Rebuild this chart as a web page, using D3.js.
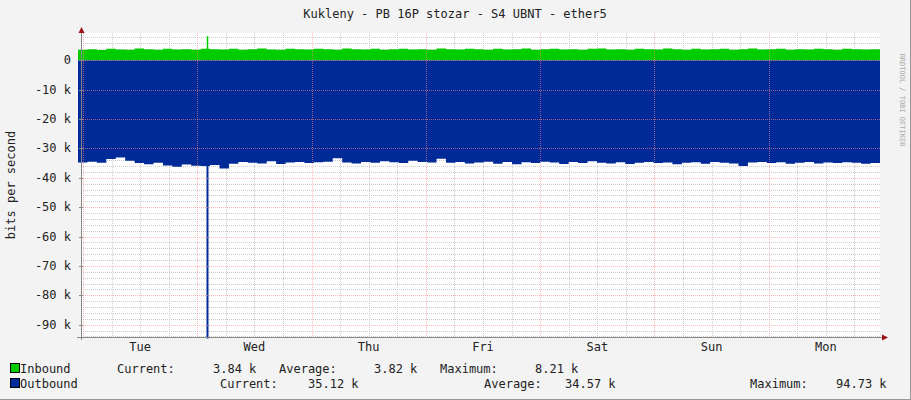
<!DOCTYPE html>
<html><head><meta charset="utf-8">
<script src="https://cdn.jsdelivr.net/npm/d3@7"></script>
<style>body{margin:0;background:#f3f3f3}text{font-family:"DejaVu Sans Mono",monospace}</style>
</head><body><svg id="c" width="911" height="400"></svg>
<script>
const dayLabels=["Tue","Wed","Thu","Fri","Sat","Sun","Mon"];
const yTicks=[0,-10000,-20000,-30000,-40000,-50000,-60000,-70000,-80000,-90000];
// 2-hourly samples, hour 0 = Tue 00:00 (starting 2h before)
const inbound=[3.6,3.8,3.5,3.9,3.7,3.6,4.0,3.8,3.6,3.9,3.7,3.8,3.6,3.9,3.8,3.7,3.9,3.6,3.8,4.0,3.7,3.6,3.9,3.8,3.7,3.9,3.8,3.6,4.0,3.8,3.7,3.9,3.6,3.8,3.9,3.7,3.8,3.6,4.0,3.8,3.7,3.9,3.8,3.6,3.9,3.7,3.8,4.0,3.6,3.8,3.9,3.7,3.8,3.6,3.9,4.0,3.7,3.8,3.6,3.9,3.8,3.7,4.0,3.8,3.6,3.9,3.7,3.8,3.9,3.6,3.8,4.0,3.7,3.8,3.9,3.6,3.8,3.7,3.9,3.8,3.6,3.9,3.8,3.7,3.8,3.84].map(v=>v*1000);
const outbound=[34.8,34.5,34.9,33.6,33.1,34.2,35.0,35.4,34.9,35.8,36.2,35.5,35.9,36.0,35.6,36.8,35.2,34.6,34.9,35.1,34.4,35.3,34.8,34.6,35.0,34.7,34.5,33.3,34.8,35.1,34.6,34.9,34.4,34.7,35.0,34.2,34.6,34.8,33.5,34.9,34.6,35.1,34.8,34.5,35.2,34.6,35.4,34.7,35.0,34.5,34.8,35.3,34.6,35.0,34.4,34.9,35.1,34.7,35.3,34.9,34.6,35.0,34.8,35.4,34.9,34.7,35.2,34.6,34.9,35.1,36.0,34.8,34.6,35.0,34.7,35.2,34.9,34.6,35.1,34.8,35.0,34.7,34.9,35.2,35.0,35.12].map(v=>-v*1000);
const spikeHour=26; // Wed ~02:30
const spikeIn=8210, spikeOut=-94730;
const legend=[
 {name:"Inbound",color:"#00cc00",cur:"3.84 k",avg:"3.82 k",max:"8.21 k"},
 {name:"Outbound",color:"#002a97",cur:"35.12 k",avg:"34.57 k",max:"94.73 k"}];

const svg=d3.select("#c");
svg.append("rect").attr("x",0).attr("y",0).attr("width",911).attr("height",400).attr("fill","#f3f3f3");
svg.append("line").attr("x1",910.5).attr("x2",910.5).attr("y1",0).attr("y2",400).attr("stroke","#999");
svg.append("line").attr("x1",0).attr("x2",911).attr("y1",399.5).attr("y2",399.5).attr("stroke","#999");
const L=81,R=880,T=33,B=337;
const x=d3.scaleLinear().domain([-2,168]).range([L-3,R]);
const xs=d3.scaleLinear().domain([0,168]).range([83,883]);
const y=d3.scaleLinear().domain([-94200,9300]).range([B,T]);
svg.append("rect").attr("x",L).attr("y",T).attr("width",R-L).attr("height",B-T).attr("fill","#fff");
const g=svg.append("g");
// minor grid
for(let v=-94000;v<=8000;v+=2000){if(v%10000===0)continue;g.append("line").attr("x1",L).attr("x2",R).attr("y1",Math.round(y(v))+.5).attr("y2",Math.round(y(v))+.5).attr("stroke","#ccc").attr("stroke-dasharray","1,1");}
for(let h=0;h<=168;h+=6){if(h%24===0)continue;const px=Math.round(xs(h))+.5;if(px>R)continue;g.append("line").attr("x1",px).attr("x2",px).attr("y1",T).attr("y2",B).attr("stroke","#ccc").attr("stroke-dasharray","1,1");}
// data
const pts=inbound.map((v,i)=>[i*2-2,v]);
const area=d3.area().x(d=>Math.min(x(d[0]),R)).y0(y(0)).y1(d=>y(d[1])).curve(d3.curveStepAfter);
g.append("path").attr("d",area(pts)).attr("fill",legend[0].color);
const opts=outbound.map((v,i)=>[i*2-2,v]);
g.append("path").attr("d",area(opts)).attr("fill",legend[1].color);
const sx=Math.round(xs(spikeHour))+.5;
g.append("line").attr("x1",sx).attr("x2",sx).attr("y1",y(0)).attr("y2",y(spikeIn)).attr("stroke",legend[0].color).attr("stroke-width",1.5);
g.append("line").attr("x1",sx).attr("x2",sx).attr("y1",y(0)).attr("y2",y(spikeOut)).attr("stroke",legend[1].color).attr("stroke-width",2);
// major grid
yTicks.forEach(v=>{g.append("line").attr("x1",L).attr("x2",R).attr("y1",Math.round(y(v))+.5).attr("y2",Math.round(y(v))+.5).attr("stroke","#f88").attr("stroke-opacity",.6).attr("stroke-dasharray","1,1");});
for(let h=0;h<=168;h+=24){const px=Math.round(xs(h))+.5;if(px>R)continue;g.append("line").attr("x1",px).attr("x2",px).attr("y1",T).attr("y2",B).attr("stroke","#f88").attr("stroke-opacity",.6).attr("stroke-dasharray","1,1");}
// axes
svg.append("line").attr("x1",L-4).attr("x2",R+4).attr("y1",B+.5).attr("y2",B+.5).attr("stroke","#888");
svg.append("line").attr("x1",L+.5).attr("x2",L+.5).attr("y1",T-4).attr("y2",B+3).attr("stroke","#888");
svg.append("path").attr("d",`M${R+8},${B+.5}L${R+2},${B-2.5}L${R+2},${B+3.5}Z`).attr("fill","#a01010");
svg.append("path").attr("d",`M${L+.5},${T-6}L${L-2.5},${T}L${L+3.5},${T}Z`).attr("fill","#a01010");
yTicks.forEach(v=>{svg.append("text").attr("x",71).attr("y",y(v)+4).attr("text-anchor","end").attr("font-size",12).attr("fill","#222").text(v===0?"0":(v<0?"-":"")+Math.abs(v/1000)+" k");
 svg.append("line").attr("x1",L-2).attr("x2",L+2).attr("y1",Math.round(y(v))+.5).attr("y2",Math.round(y(v))+.5).attr("stroke","#888");});
dayLabels.forEach((d,i)=>svg.append("text").attr("x",xs(i*24+12)).attr("y",B+14).attr("text-anchor","middle").attr("font-size",12).attr("fill","#222").text(d));
svg.append("text").attr("x",455).attr("y",18).attr("text-anchor","middle").attr("font-size",12).attr("fill","#222").text("Kukleny - PB 16P stozar - S4 UBNT - ether5");
svg.append("text").attr("transform","translate(15,185) rotate(-90)").attr("text-anchor","middle").attr("font-size",12).attr("fill","#222").text("bits per second");
svg.append("text").attr("transform","translate(900,100) rotate(90)").attr("text-anchor","middle").attr("font-size",7).attr("fill","#aaa").text("RRDTOOL / TOBI OETIKER");
// legend
const lg=(yy,i,parts)=>{svg.append("rect").attr("x",10.5).attr("y",yy-9.5).attr("width",9).attr("height",9).attr("fill",legend[i].color).attr("stroke","#000");
 parts.forEach(p=>svg.append("text").attr("x",p[0]).attr("y",yy).attr("font-size",12).attr("fill","#222").attr("xml:space","preserve").text(p[1]));};
lg(373,0,[[20,"Inbound"],[117,"Current:"],[213,legend[0].cur],[279,"Average:"],[374,legend[0].avg],[440,"Maximum:"],[535,legend[0].max]]);
lg(388,1,[[20,"Outbound"],[220,"Current:"],[308,legend[1].cur],[484,"Average:"],[565,legend[1].avg],[750,"Maximum:"],[836,legend[1].max]]);
</script></body></html>
